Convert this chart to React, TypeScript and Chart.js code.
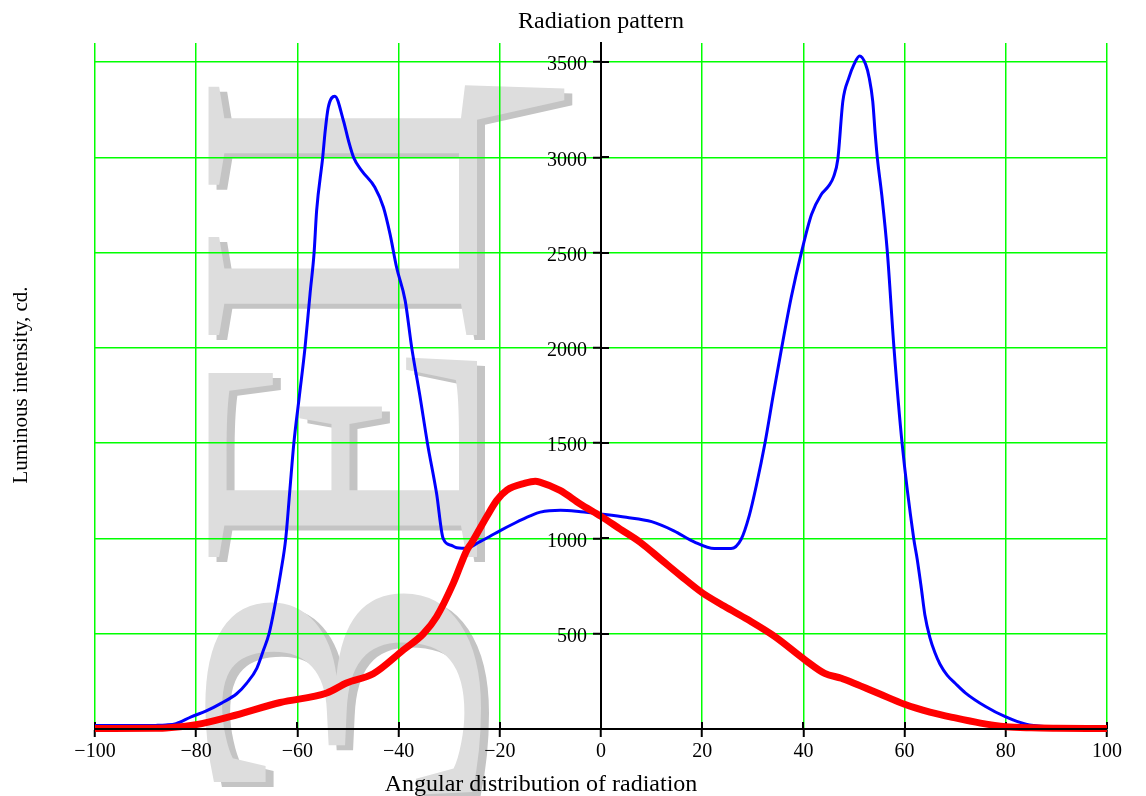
import { useEffect, useRef } from 'react';
import { Chart, registerables } from 'chart.js';

Chart.register(...registerables);

const xTickValues = [-100, -80, -60, -40, -20, 0, 20, 40, 60, 80, 100];
const yTickValues = [500, 1000, 1500, 2000, 2500, 3000, 3500];

const blueAngles = [-100, -92, -88, -86, -84, -81, -78, -75, -72, -70, -68, -66.7, -65.6, -64.5, -63.3, -62.3, -61.5, -60.7, -59.6, -58.5, -57.5, -56.7, -56.2, -55, -54.5, -53.9, -52.6, -50.9, -49.9, -48.9, -47.3, -44.7, -43, -41.7, -40.4, -38.7, -37.4, -35.8, -34.3, -32.5, -31.2, -29.5, -28.5, -27.5, -26.5, -24, -22, -20, -17, -14, -12, -8, -4, 0, 5, 10, 14.4, 18.4, 22.4, 25.7, 27.7, 29.3, 30.7, 32.4, 34.1, 35.7, 37.6, 39.6, 41.6, 43.5, 45, 46, 46.8, 47.8, 49, 50, 51.1, 52.3, 53, 53.7, 54.2, 54.6, 55.5, 56.6, 57.9, 59.5, 61.8, 62.5, 63.3, 64, 65, 66, 67, 68.4, 70, 72, 76, 80, 84, 88, 92, 100];
const blueIntensity = [18, 18, 19, 21, 28, 64, 95, 136, 185, 241, 320, 414, 500, 640, 820, 1000, 1250, 1500, 1750, 2000, 2284, 2500, 2720, 3000, 3140, 3262, 3321, 3192, 3087, 3000, 2930, 2843, 2738, 2598, 2423, 2248, 2000, 1750, 1500, 1237, 1000, 963, 951, 949, 950, 982, 1010, 1040, 1081, 1118, 1138, 1148, 1140, 1128, 1111, 1088, 1040, 982, 947, 947, 996, 1120, 1278, 1500, 1762, 2000, 2266, 2500, 2700, 2804, 2850, 2900, 2990, 3295, 3418, 3488, 3532, 3488, 3418, 3295, 3120, 3000, 2800, 2500, 2000, 1500, 1000, 890, 740, 600, 480, 400, 340, 283, 240, 190, 118, 63, 25, 12, 9, 8];

const redAngles = [-100, -88, -86, -80, -73.3, -63.4, -54.2, -50.3, -45, -39.1, -35.1, -32.5, -29.2, -26.5, -25.5, -22.6, -20.6, -18.6, -15, -13, -12.1, -8.1, -4.1, 0, 3.8, 7.8, 11.8, 15.8, 20, 24.4, 29, 34.3, 40.3, 44.2, 47.5, 50, 55, 60, 65, 70, 75, 80, 85, 90, 100];
const redIntensity = [3, 4, 5, 23, 65, 139, 189, 241, 290, 414, 500, 589, 764, 939, 980, 1114, 1200, 1254, 1290, 1300, 1296, 1252, 1181, 1116, 1049, 979, 891, 803, 715, 644, 574, 486, 363, 292, 266, 240, 185, 130, 89, 58, 31, 12, 6, 4, 3];

const chartTitle = 'Radiation pattern';
const xAxisTitle = 'Angular distribution of radiation';
const yAxisTitle = 'Luminous intensity, cd.';
const watermarkText = 'ЗЕЦ';

const SERIF = '"Liberation Serif", "Times New Roman", serif';

const formatTick = (v: number) => (v < 0 ? '\u2212' + Math.abs(v) : String(v));

export default function App() {
  const ref = useRef<HTMLCanvasElement>(null);

  useEffect(() => {
    const canvas = ref.current;
    if (!canvas) return;

    // screen extents (top, bottom) of each rotated watermark glyph
    const wmSpans: [number, number][] = [[587, 795], [357, 562], [83, 340]];

    const deco = {
      id: 'deco',
      afterLayout(chart: any) {
        const ys = chart.scales.y;
        if (ys && typeof ys.getLabelItems === 'function') {
          const items = ys.getLabelItems(chart.chartArea);
          items.forEach((it: any) => {
            if (it && it.options && Array.isArray(it.options.translation)) {
              it.options.translation[0] -= 14;
              it.options.translation[1] += 3;
            }
          });
        }
      },
      beforeDraw(chart: any) {
        const ctx = chart.ctx as CanvasRenderingContext2D;
        const letters = Array.from(watermarkText);
        const paint = (dx: number, dy: number, color: string) => {
          ctx.save();
          ctx.font = `410px ${SERIF}`;
          ctx.fillStyle = color;
          ctx.textBaseline = 'alphabetic';
          ctx.textAlign = 'left';
          letters.forEach((ch, i) => {
            const m = ctx.measureText(ch);
            const inkW = m.actualBoundingBoxLeft + m.actualBoundingBoxRight;
            const [top, bottom] = wmSpans[i];
            const sx = (bottom - top) / inkW;
            ctx.save();
            ctx.translate(477 + dx, bottom + dy);
            ctx.rotate(-Math.PI / 2);
            ctx.scale(sx, 1);
            ctx.fillText(ch, m.actualBoundingBoxLeft, 0);
            ctx.restore();
          });
          ctx.restore();
        };
        paint(8, 5, '#c4c4c4');
        paint(0, 0, '#dddddd');
      },
      beforeDatasetsDraw(chart: any) {
        const { ctx, chartArea, scales } = chart;
        const x0 = Math.round(scales.x.getPixelForValue(0));
        ctx.save();
        ctx.strokeStyle = '#000';
        ctx.lineWidth = 2;
        ctx.beginPath();
        scales.x.ticks.forEach((t: any) => {
          const px = Math.round(scales.x.getPixelForValue(t.value));
          ctx.moveTo(px, chartArea.bottom);
          ctx.lineTo(px, chartArea.bottom - 7);
        });
        scales.y.ticks.forEach((t: any) => {
          const py = Math.round(scales.y.getPixelForValue(t.value));
          ctx.moveTo(x0, py);
          ctx.lineTo(x0 + 8, py);
        });
        ctx.stroke();
        ctx.restore();
      },
      afterDraw(chart: any) {
        const { ctx, chartArea } = chart;
        ctx.save();
        ctx.fillStyle = '#000';
        ctx.font = `24px ${SERIF}`;
        ctx.textAlign = 'center';
        ctx.textBaseline = 'alphabetic';
        ctx.fillText(xAxisTitle, 541, 791);
        ctx.font = `21px ${SERIF}`;
        ctx.textBaseline = 'middle';
        ctx.translate(21, (chartArea.top + chartArea.bottom) / 2 - 1);
        ctx.rotate(-Math.PI / 2);
        ctx.fillText(yAxisTitle, 0, 0);
        ctx.restore();
      },
    };

    const chart = new Chart(canvas, {
      type: 'line',
      data: {
        datasets: [
          {
            label: 'red',
            data: redAngles.map((x, i) => ({ x, y: redIntensity[i] })),
            borderColor: '#ff0000',
            backgroundColor: '#ff0000',
            borderWidth: 7,
            pointRadius: 0,
            cubicInterpolationMode: 'monotone',
            fill: false,
            clip: false as any,
          },
          {
            label: 'blue',
            data: blueAngles.map((x, i) => ({ x, y: blueIntensity[i] })),
            borderColor: '#0000ff',
            backgroundColor: '#0000ff',
            borderWidth: 3,
            pointRadius: 0,
            cubicInterpolationMode: 'monotone',
            fill: false,
            clip: false as any,
          },
        ],
      },
      options: {
        animation: false,
        responsive: true,
        maintainAspectRatio: false,
        layout: { padding: { left: 95, right: 39, top: 0, bottom: 0 } },
        plugins: {
          legend: { display: false },
          tooltip: { enabled: false },
          title: {
            display: true,
            text: chartTitle,
            color: '#000',
            font: { family: SERIF, size: 24, weight: 'normal', lineHeight: 1.2 },
            padding: { top: 7, bottom: 7.2 },
          },
        },
        scales: {
          x: {
            type: 'linear',
            position: 'bottom',
            min: -100,
            max: 100,
            afterBuildTicks: (s: any) => {
              s.ticks = xTickValues.map((v) => ({ value: v }));
            },
            afterFit: (s: any) => {
              s.height = 67;
            },
            grid: {
              color: '#00ff00',
              lineWidth: 1.5,
              tickColor: '#000',
              tickWidth: 2,
              tickLength: 8,
            },
            border: { color: '#000', width: 2, z: 1 },
            ticks: {
              color: '#000',
              font: { family: SERIF, size: 20 },
              padding: 3,
              maxRotation: 0,
              autoSkip: false,
              callback: (v: any) => formatTick(Number(v)),
            },
          },
          y: {
            type: 'linear',
            position: { x: 0 } as any,
            min: 0,
            max: 3600,
            afterBuildTicks: (s: any) => {
              s.ticks = yTickValues.map((v) => ({ value: v }));
            },
            grid: {
              color: '#00ff00',
              lineWidth: 1.5,
              tickColor: '#000',
              tickWidth: 2,
              tickLength: 7,
            },
            border: { color: '#000', width: 2, z: 1 },
            ticks: {
              color: '#000',
              font: { family: SERIF, size: 20 },
              padding: 6,
              autoSkip: false,
              callback: (v: any) => String(v),
            },
          },
        },
      },
      plugins: [deco],
    });

    return () => chart.destroy();
  }, []);

  return (
    <div style={{ position: 'absolute', left: 0, top: 0, width: 1146, height: 796, background: '#fff' }}>
      <canvas ref={ref} />
    </div>
  );
}
